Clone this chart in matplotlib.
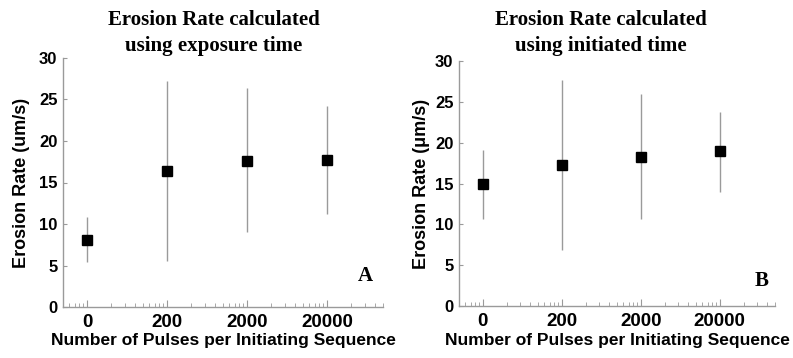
import matplotlib.pyplot as plt
from matplotlib.ticker import FixedLocator, LogLocator, NullFormatter

# x positions are decades on a log axis, labelled with the pulse counts
x_pos = [1, 10, 100, 1000]
x_labels = ["0", "200", "2000", "20000"]

# panel A: exposure time
rate_a = [8.1, 16.4, 17.6, 17.7]
low_a = [5.4, 5.6, 9.0, 11.2]
high_a = [10.8, 27.2, 26.4, 24.2]

# panel B: initiated time
rate_b = [14.9, 17.3, 18.3, 19.0]
low_b = [10.7, 6.8, 10.7, 14.0]
high_b = [19.1, 27.7, 25.9, 23.8]

W, H = 793, 358
fig = plt.figure(figsize=(W / 100, H / 100), dpi=100)

panels = [
    dict(rect=(63, 58, 383, 307), rate=rate_a, low=low_a, high=high_a,
         title="Erosion Rate calculated\nusing exposure time", tx=214,
         ylabel="Erosion Rate (um/s)", letter="A", lx=365, ly=276, ylx=21),
    dict(rect=(459, 61, 775, 306), rate=rate_b, low=low_b, high=high_b,
         title="Erosion Rate calculated\nusing initiated time", tx=601,
         ylabel="Erosion Rate (\u03bcm/s)", letter="B", lx=762, ly=281, ylx=421),
]

sans = "Liberation Sans"
serif = "Liberation Serif"
gray = "#9a9a9a"

for p in panels:
    x0, y0, x1, y1 = p["rect"]
    ax = fig.add_axes([x0 / W, 1 - y1 / H, (x1 - x0) / W, (y1 - y0) / H])
    yerr = [[r - lo for r, lo in zip(p["rate"], p["low"])],
            [hi - r for r, hi in zip(p["rate"], p["high"])]]
    ax.errorbar(x_pos, p["rate"], yerr=yerr, fmt="s", color="black",
                ecolor=gray, elinewidth=1, capsize=0, markersize=6.5)

    ax.set_xscale("log")
    ax.set_xlim(0.5, 5000)
    ax.set_ylim(0, 30)
    ax.xaxis.set_major_locator(FixedLocator(x_pos))
    ax.set_xticklabels(x_labels)
    ax.xaxis.set_minor_locator(LogLocator(base=10, subs=range(2, 10)))
    ax.xaxis.set_minor_formatter(NullFormatter())
    ax.set_yticks(range(0, 31, 5))

    for s in ["top", "right"]:
        ax.spines[s].set_visible(False)
    for s in ["left", "bottom"]:
        ax.spines[s].set_color(gray)
        ax.spines[s].set_linewidth(1)

    ax.tick_params(axis="both", which="both", direction="in", color=gray)
    ax.tick_params(axis="x", which="major", length=5, pad=5)
    ax.tick_params(axis="x", which="minor", length=3)
    ax.tick_params(axis="y", which="major", length=3, pad=4)
    for lab in ax.get_xticklabels():
        lab.set_fontfamily(sans)
        lab.set_fontweight("bold")
        lab.set_fontsize(13.5)
    for lab in ax.get_yticklabels():
        lab.set_fontfamily(sans)
        lab.set_fontweight("bold")
        lab.set_fontsize(12)

    ax.set_xlabel("Number of Pulses per Initiating Sequence", fontfamily=sans,
                  fontweight="bold", fontsize=12.5)
    ax.xaxis.set_label_coords(0.5, (y1 - 341) / (y1 - y0))
    ax.xaxis.label.set_va("center")
    ax.set_ylabel(p["ylabel"], fontfamily=sans, fontweight="bold", fontsize=13)
    ax.yaxis.set_label_coords((p["ylx"] - x0) / (x1 - x0), 0.5)
    ax.yaxis.label.set_va("center")

    fig.text(p["tx"] / W, 1 - 33 / H, p["title"], ha="center", va="center",
             fontfamily=serif, fontweight="bold", fontsize=15, linespacing=1.35)
    fig.text(p["lx"] / W, 1 - p["ly"] / H, p["letter"], ha="center", va="center",
             fontfamily=serif, fontweight="bold", fontsize=15)

fig.savefig("out.png", dpi=100)
